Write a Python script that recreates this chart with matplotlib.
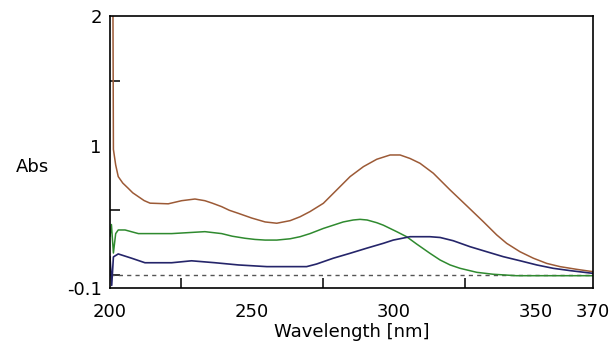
import matplotlib
matplotlib.use("Agg")
import matplotlib.pyplot as plt

# UV spectra, absorbance vs wavelength
brown_wl = [200, 201, 201.2, 202, 202.9, 204.5, 206.4, 208, 210, 212, 214.1, 220.5,
            225.2, 229.9, 233.4, 236, 239.3, 242, 245.1, 249.9, 254.6, 258.7, 263.4,
            266.9, 270.4, 275.1, 279.8, 284.5, 289.2, 293.9, 298.6, 302.1, 305.6,
            309.1, 313.8, 319.7, 325.5, 331.4, 336.1, 339.6, 344.3, 349, 353.7,
            358.4, 364.3, 370]
brown_abs = [2.6, 2.3, 0.97, 0.85, 0.76, 0.71, 0.67, 0.635, 0.605, 0.575, 0.555, 0.55,
             0.574, 0.587, 0.574, 0.555, 0.528, 0.50, 0.477, 0.44, 0.41, 0.40, 0.42,
             0.45, 0.49, 0.554, 0.657, 0.76, 0.837, 0.894, 0.927, 0.927, 0.90,
             0.863, 0.786, 0.657, 0.536, 0.412, 0.31, 0.245, 0.18, 0.13, 0.09,
             0.065, 0.044, 0.026]

green_wl = [200, 200.5, 201.2, 202, 202.9, 205.3, 210, 221.7, 233.4, 239.3, 243,
            247.5, 251, 254.6, 258.7, 263.4, 266.9, 270.4, 275.1, 278.6, 282.1,
            285.6, 288, 290.5, 293.9, 296.2, 300.9, 304.4, 307.9, 312.6, 316.2,
            319.7, 323.2, 329.1, 334.9, 343, 370]
green_abs = [0.3, 0.39, 0.17, 0.32, 0.348, 0.348, 0.32, 0.32, 0.335, 0.32, 0.30,
             0.284, 0.275, 0.27, 0.27, 0.28, 0.296, 0.32, 0.36, 0.385, 0.41,
             0.425, 0.43, 0.425, 0.404, 0.385, 0.335, 0.296, 0.24, 0.168, 0.116,
             0.078, 0.052, 0.021, 0.006, -0.005, -0.005]

blue_wl = [200, 200.6, 201.2, 202.9, 207.6, 212.3, 221.7, 228.7, 237, 245.2, 255.2,
           269.2, 272.7, 278.6, 284.5, 290.3, 296.2, 299.7, 305.6, 312.6, 316.2,
           320.8, 326.7, 332.6, 338.4, 344.4, 350.2, 356, 362, 370]
blue_abs = [0.14, -0.08, 0.14, 0.163, 0.13, 0.095, 0.095, 0.11, 0.095, 0.078, 0.065,
            0.065, 0.085, 0.13, 0.168, 0.207, 0.245, 0.27, 0.296, 0.296, 0.29,
            0.265, 0.219, 0.18, 0.142, 0.11, 0.078, 0.052, 0.034, 0.013]

xtick_vals = [200, 250, 300, 350, 370]
ytick_vals = [-0.1, 1, 2]

plt.rcParams['font.family'] = 'DejaVu Sans'

fig = plt.figure(figsize=(6.14, 3.51), dpi=100)
ax = fig.add_axes([110/614, 1 - 288/351, 483/614, 272/351])

ax.axhline(0, color='#555555', lw=1, dashes=(3, 3))
ax.plot(brown_wl, brown_abs, color='#9c5a36', lw=1.1)
ax.plot(green_wl, green_abs, color='#2f8a2f', lw=1.1)
ax.plot(blue_wl, blue_abs, color='#25256a', lw=1.2)

ax.set_xlim(200, 370)
ax.set_ylim(-0.1, 2)

ax.set_xticks(xtick_vals)
ax.set_xticklabels([str(v) for v in xtick_vals])
ax.set_yticks(ytick_vals)
ax.set_yticklabels(['-0.1', '1', '2'])
ax.tick_params(axis='x', length=0, pad=11, labelsize=13)
ax.tick_params(axis='y', length=0, pad=6, labelsize=13)

ax.set_xticks([225, 250, 275, 300, 325, 350], minor=True)
ax.set_yticks([0, 0.5, 1, 1.5], minor=True)
ax.tick_params(which='minor', direction='in', length=7, width=1.1, color='black')

for s in ax.spines.values():
    s.set_linewidth(1.2)

ax.set_xlabel('Wavelength [nm]', fontsize=13, labelpad=1)
ax.set_ylabel('Abs', fontsize=13, rotation=0, va='center', ha='center')
ax.yaxis.set_label_coords(-0.161, 0.445)

plt.savefig('out.png', dpi=100)
